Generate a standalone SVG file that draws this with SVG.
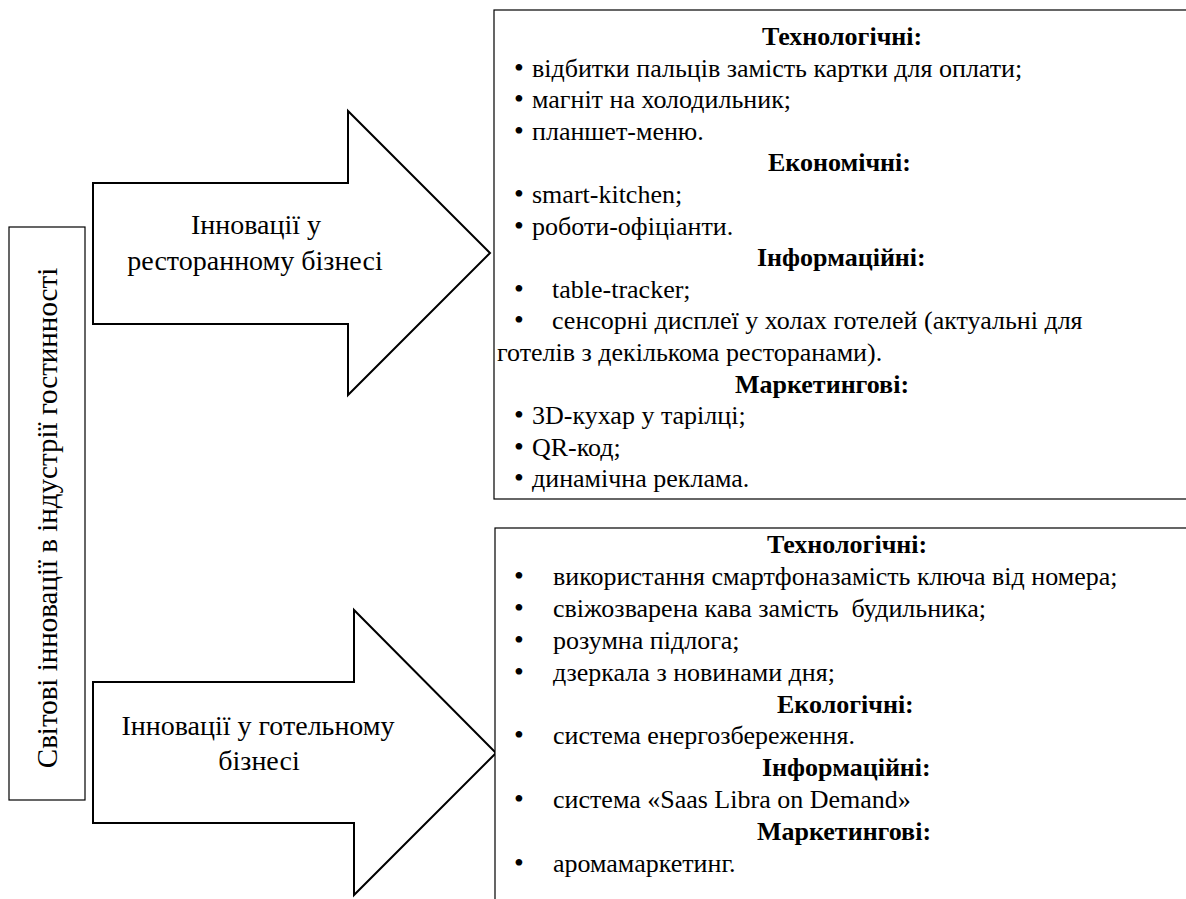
<svg xmlns="http://www.w3.org/2000/svg" width="1186" height="899" viewBox="0 0 1186 899">
<style>
  text { font-family: "Liberation Serif", "Times New Roman", serif; fill: #000; }
  .box { fill: #fff; stroke: #000; stroke-width: 1.2; }
  .arrow { fill: #fff; stroke: #000; stroke-width: 2; stroke-linejoin: miter; }
  .big { font-size: 28px; }
  .vert { font-size: 29px; }
  .item { font-size: 26px; }
  .bul { font-size: 28px; }
  .head { font-size: 26px; font-weight: bold; }
</style>
<rect x="0" y="0" width="1186" height="899" fill="#fff"/>

<g id="main-box">
  <rect class="box" x="9" y="227" width="76" height="573"/>
  <text class="vert" transform="translate(57,518) rotate(-90)" text-anchor="middle">Світові інновації в індустрії гостинності</text>
</g>

<g id="arrow-restaurant">
  <polygon class="arrow" points="93,183 348,183 348,111 490,253 348,395 348,324 93,324"/>
  <text class="big" x="256" y="234" text-anchor="middle">Інновації у</text>
  <text class="big" x="255" y="270" text-anchor="middle">ресторанному бізнесі</text>
</g>

<g id="arrow-hotel">
  <polygon class="arrow" points="93,682 354,682 354,610 496,753 354,895 354,823 93,823"/>
  <text class="big" x="258" y="735" text-anchor="middle">Інновації у готельному</text>
  <text class="big" x="259" y="770" text-anchor="middle">бізнесі</text>
</g>

<g id="box-restaurant">
  <rect class="box" x="494" y="10" width="720" height="489"/>
  <text class="head" x="762" y="45">Технологічні:</text>
  <text class="bul" x="514" y="76.6">•</text>
  <text class="item" x="532" y="76.6">відбитки пальців замість картки для оплати;</text>
  <text class="bul" x="514" y="108">•</text>
  <text class="item" x="532" y="108">магніт на холодильник;</text>
  <text class="bul" x="514" y="140">•</text>
  <text class="item" x="532" y="140">планшет-меню.</text>
  <text class="head" x="768" y="171">Економічні:</text>
  <text class="bul" x="514" y="203">•</text>
  <text class="item" x="532" y="203">smart-kitchen;</text>
  <text class="bul" x="514" y="235">•</text>
  <text class="item" x="532" y="235">роботи-офіціанти.</text>
  <text class="head" x="757" y="266">Інформаційні:</text>
  <text class="bul" x="514" y="298">•</text>
  <text class="item" x="552" y="298">table-tracker;</text>
  <text class="bul" x="514" y="329">•</text>
  <text class="item" x="552" y="329">сенсорні дисплеї у холах готелей (актуальні для</text>
  <text class="item" x="497" y="361">готелів з декількома ресторанами).</text>
  <text class="head" x="735" y="393">Маркетингові:</text>
  <text class="bul" x="514" y="424">•</text>
  <text class="item" x="532" y="424">3D-кухар у тарілці;</text>
  <text class="bul" x="514" y="456">•</text>
  <text class="item" x="532" y="456">QR-код;</text>
  <text class="bul" x="514" y="487">•</text>
  <text class="item" x="532" y="487">динамічна реклама.</text>
</g>

<g id="box-hotel">
  <rect class="box" x="495" y="528" width="720" height="400"/>
  <text class="head" x="767" y="553">Технологічні:</text>
  <text class="bul" x="514" y="585">•</text>
  <text class="item" x="553" y="585">використання смартфоназамість ключа від номера;</text>
  <text class="bul" x="514" y="617">•</text>
  <text class="item" x="553" y="617" xml:space="preserve">свіжозварена кава замість  будильника;</text>
  <text class="bul" x="514" y="649">•</text>
  <text class="item" x="553" y="649">розумна підлога;</text>
  <text class="bul" x="514" y="681">•</text>
  <text class="item" x="553" y="681">дзеркала з новинами дня;</text>
  <text class="head" x="777" y="713">Екологічні:</text>
  <text class="bul" x="514" y="744">•</text>
  <text class="item" x="553" y="744">система енергозбереження.</text>
  <text class="head" x="762" y="776">Інформаційні:</text>
  <text class="bul" x="514" y="808">•</text>
  <text class="item" x="553" y="808">система «Saas Libra on Demand»</text>
  <text class="head" x="757" y="840">Маркетингові:</text>
  <text class="bul" x="514" y="872">•</text>
  <text class="item" x="553" y="872">аромамаркетинг.</text>
</g>

<g id="connectors"></g>
</svg>
